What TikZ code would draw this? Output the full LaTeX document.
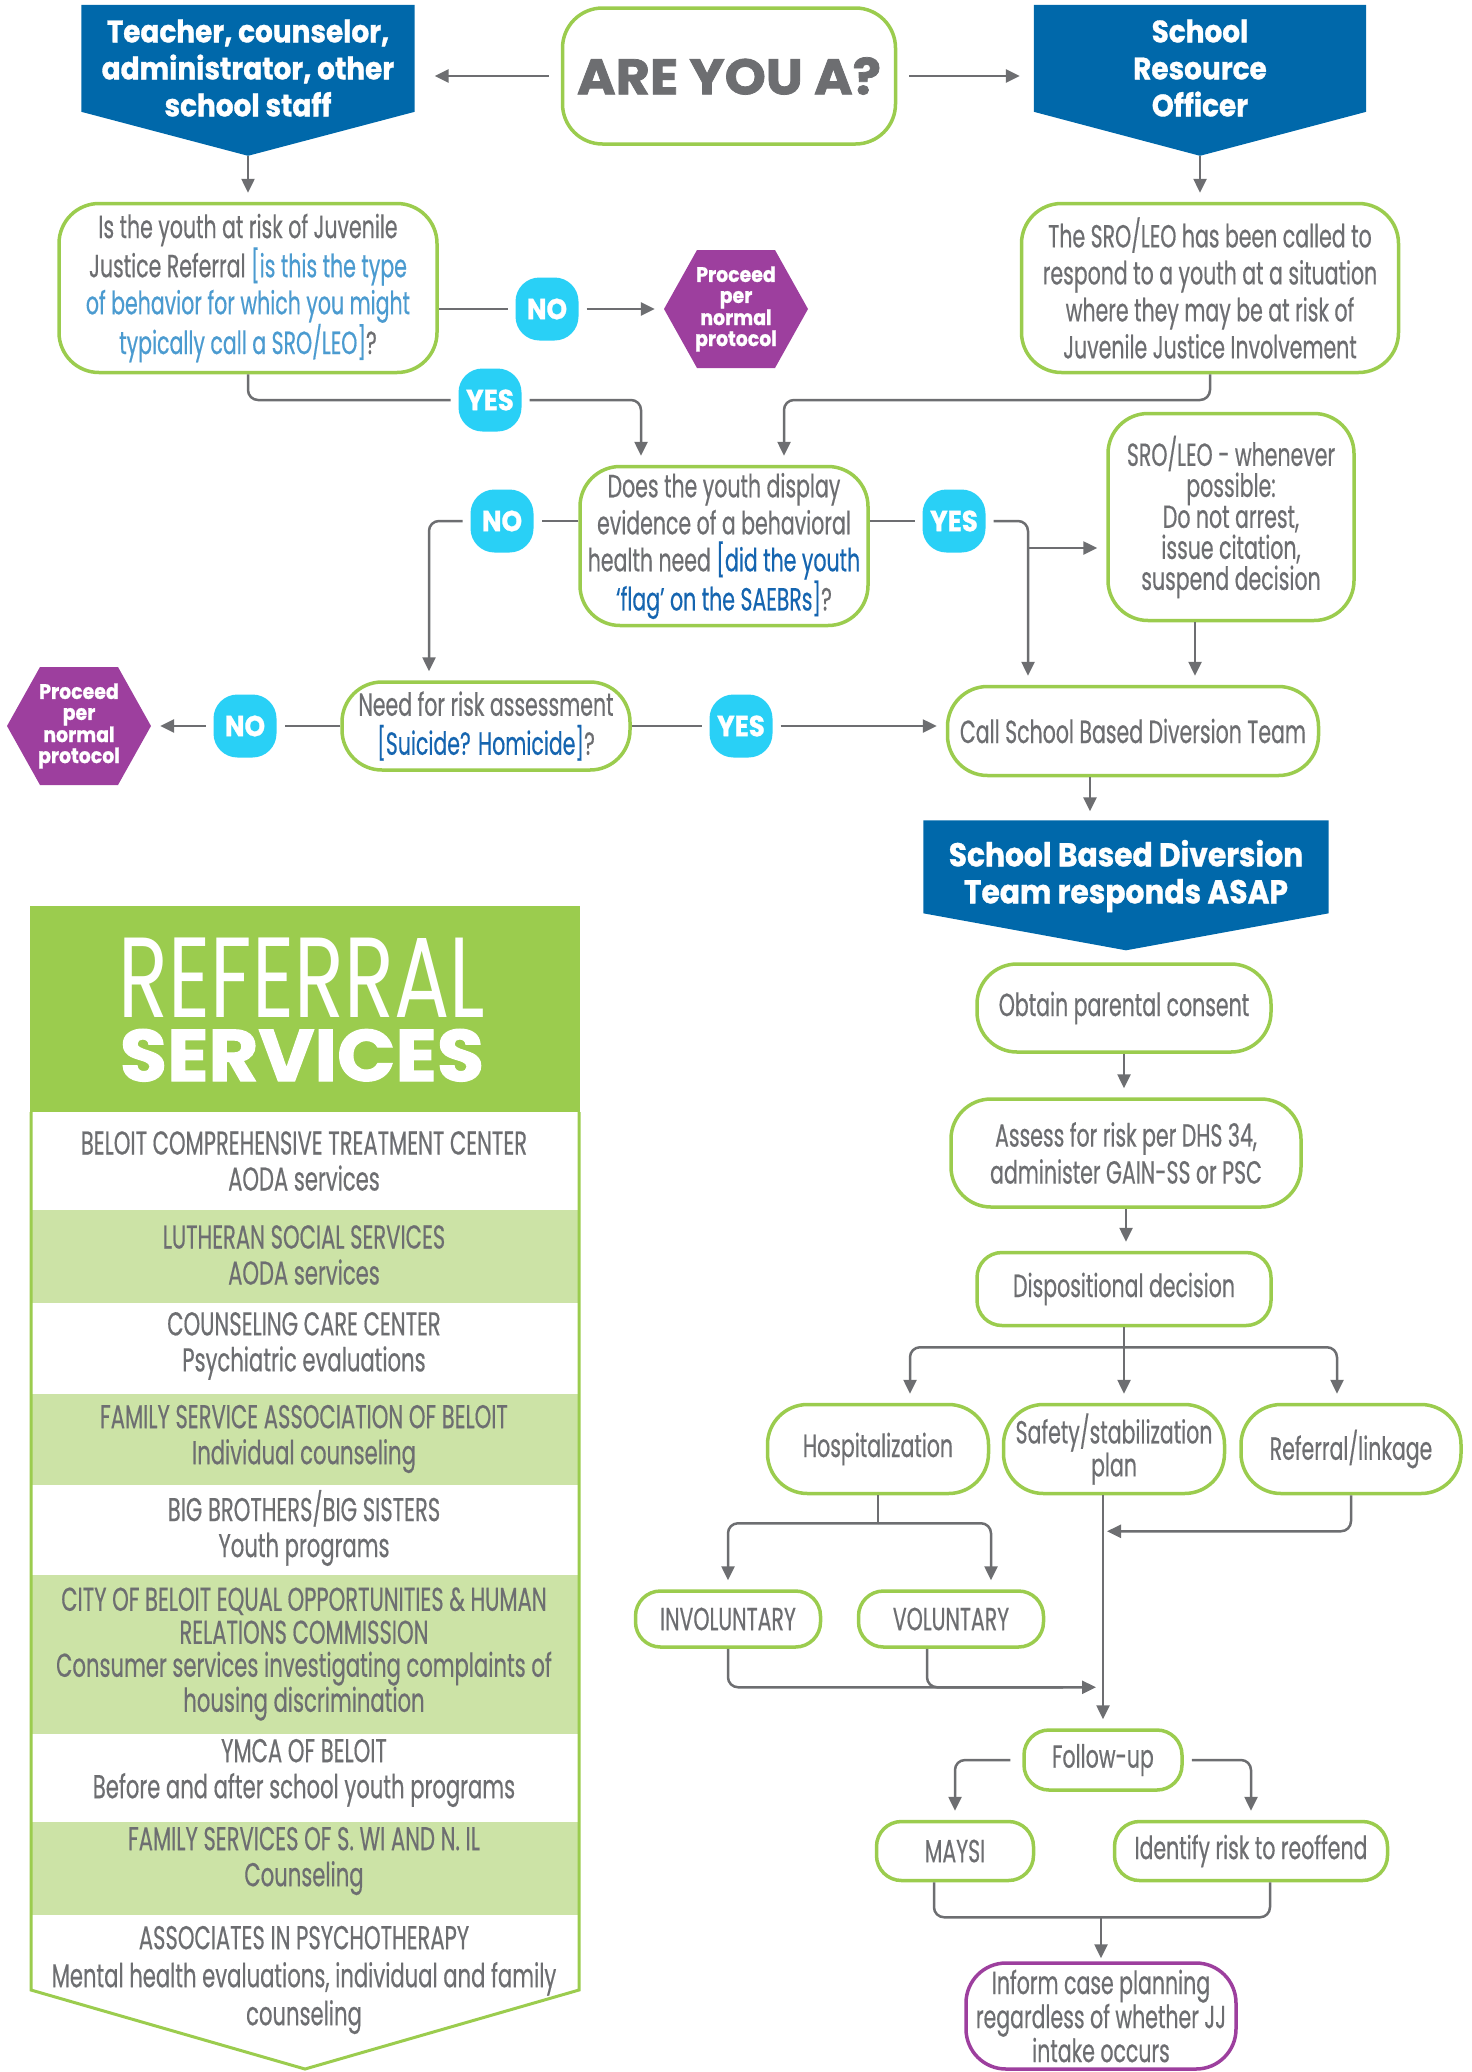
\documentclass[tikz,border=0pt]{standalone}
\usepackage{fontspec}
\usepackage{tikz}
\usetikzlibrary{arrows.meta,calc,backgrounds}
\newfontfamily\bodyfont[FakeStretch=0.64, FakeBold=0.4]{Poppins}
\newfontfamily\headfont[FakeStretch=0.9, FakeBold=1]{Poppins}
\newfontfamily\bigfont[FakeStretch=1.05, FakeBold=1.5]{Poppins}
\newfontfamily\thinfont[FakeStretch=0.72]{Poppins}
\definecolor{jblue}{HTML}{0068AA}
\definecolor{jgreen}{HTML}{9BCC4E}
\definecolor{jstripe}{HTML}{CCE3A6}
\definecolor{jcyan}{HTML}{29D0F6}
\definecolor{jpurple}{HTML}{9D3F9E}
\definecolor{jgray}{HTML}{6D6E71}
\definecolor{qblue}{HTML}{4B9BD0}
\definecolor{dblue}{HTML}{1565B0}

\tikzset{
  qbox/.style={draw=jgreen, line width=3.5pt, fill=white, rounded corners=40pt, align=center,
    text=jgray, inner sep=0pt, font=\bodyfont\fontsize{32}{37}\selectfont},
  pill/.style={qbox, rounded corners=25pt},
  badge/.style={fill=jcyan, rounded corners=24pt, text=white, minimum width=63, minimum height=63,
    inner sep=0pt, outer sep=8pt, font=\headfont\bfseries\fontsize{29}{29}\selectfont},
  hexa/.style={minimum width=144, minimum height=118, inner sep=0pt, text=white, align=center,
    font=\headfont\bfseries\fontsize{21}{21}\selectfont,
    path picture={\fill[jpurple] (path picture bounding box.west)
      -- ([xshift=33pt]path picture bounding box.north west) -- ([xshift=-33pt]path picture bounding box.north east)
      -- (path picture bounding box.east)
      -- ([xshift=-33pt]path picture bounding box.south east) -- ([xshift=33pt]path picture bounding box.south west) -- cycle;}},
  bantext/.style={text=white, align=center, inner sep=0pt, font=\headfont\bfseries\fontsize{31}{37}\selectfont},
  svc/.style={text=jgray, align=center, inner sep=0pt, font=\bodyfont\fontsize{33}{36}\selectfont},
  line/.style={draw=jgray, line width=2.5pt, rounded corners=10pt},
  arr/.style={line, ->, >={Stealth[inset=0pt,length=14pt,width=13pt]}, shorten >=9pt}
}

\begin{document}
\begin{tikzpicture}[x=1pt,y=-1pt]
\useasboundingbox (0,0) rectangle (1472,2072);

% who is asking
\node[bantext, minimum width=333, minimum height=126] (staff) at (248,68) {Teacher, counselor,\\administrator, other\\school staff};
\node[bantext, minimum width=332, minimum height=126] (sro) at (1200,68) {School\\Resource\\Officer};
\node[qbox, minimum width=333, minimum height=136, font=\bigfont\bfseries\fontsize{50}{50}\selectfont] (areu) at (729,76) {ARE YOU A?};
\coordinate (tip1) at ($(staff.north)+(0,151)$);
\coordinate (tip2) at ($(sro.north)+(0,151)$);

% first questions
\node[qbox, minimum width=378, minimum height=169] (jjq) at (248,288) {Is the youth at risk of Juvenile\\Justice Referral {\color{qblue}[is this the type}\\{\color{qblue}of behavior for which you might}\\{\color{qblue}typically call a SRO/LEO]}?};
\node[qbox, minimum width=377, minimum height=169] (sroq) at (1210,288) {The SRO/LEO has been called to\\respond to a youth at a situation\\where they may be at risk of\\Juvenile Justice Involvement};
\node[badge] (no1) at (547,309) {NO};
\node[hexa] (hex1) at (736,309) {Proceed\\per\\normal\\protocol};
\node[badge] (yes1) at (490,400) {YES};

% behavioral health
\node[qbox, minimum width=288, minimum height=159] (bhq) at (724,546) {Does the youth display\\evidence of a behavioral\\health need {\color{dblue}[did the youth}\\{\color{dblue}‘flag’ on the SAEBRs]}?};
\node[badge] (no2) at (502,521) {NO};
\node[badge] (yes2) at (954,521) {YES};
\node[qbox, minimum width=246, minimum height=207, font=\bodyfont\fontsize{32}{31}\selectfont] (leo) at (1231,517) {SRO/LEO - whenever\\possible:\\Do not arrest,\\issue citation,\\suspend decision};

% risk assessment
\node[qbox, minimum width=288, minimum height=88, font=\bodyfont\fontsize{32}{39}\selectfont] (risk) at (486,726) {Need for risk assessment\\{\color{dblue}[Suicide? Homicide]}?};
\node[badge] (no3) at (245,726) {NO};
\node[hexa] (hex2) at (79,726) {Proceed\\per\\normal\\protocol};
\node[badge] (yes3) at (741,726) {YES};
\node[qbox, minimum width=371, minimum height=89] (call) at (1133,731) {Call School Based Diversion Team};

% diversion team
\node[bantext, minimum width=405, minimum height=111, font=\headfont\bfseries\fontsize{33}{37}\selectfont] (sbdt) at (1126,876) {School Based Diversion\\Team responds ASAP};
\node[qbox, minimum width=294, minimum height=88] (consent) at (1124,1008) {Obtain parental consent};
\node[qbox, minimum width=350, minimum height=108] (assess) at (1126,1153) {Assess for risk per DHS 34,\\administer GAIN-SS or PSC};
\node[pill, minimum width=294, minimum height=73] (disp) at (1124,1289) {Dispositional decision};
\node[qbox, minimum width=221, minimum height=89] (hosp) at (878,1449) {Hospitalization};
\node[qbox, minimum width=221, minimum height=89, font=\bodyfont\fontsize{32}{28}\selectfont] (safety) at (1114,1449) {Safety/stabilization\\plan};
\node[qbox, minimum width=220, minimum height=89] (linkage) at (1351,1449) {Referral/linkage};
\node[pill, minimum width=185, minimum height=56] (invol) at (728,1619) {INVOLUNTARY};
\node[pill, minimum width=185, minimum height=56] (vol) at (951,1619) {VOLUNTARY};
\node[pill, minimum width=158, minimum height=60] (follow) at (1103,1760) {Follow-up};
\node[pill, minimum width=157, minimum height=59] (maysi) at (955,1851) {MAYSI};
\node[pill, minimum width=273, minimum height=59] (reoffend) at (1251,1851) {Identify risk to reoffend};
\node[qbox, draw=jpurple, minimum width=270, minimum height=106, font=\bodyfont\fontsize{32}{31}\selectfont] (inform) at (1101,2016) {Inform case planning\\regardless of whether JJ\\intake occurs};

% banners
\begin{scope}[on background layer]
\fill[jblue] (staff.north west) -- (staff.north east) -- ($(staff.north east)+(0,107)$) -- (tip1) -- ($(staff.north west)+(0,107)$) -- cycle;
\fill[jblue] (sro.north west) -- (sro.north east) -- ($(sro.north east)+(0,107)$) -- (tip2) -- ($(sro.north west)+(0,107)$) -- cycle;
\fill[jblue] (sbdt.north west) -- (sbdt.north east) -- ($(sbdt.north east)+(0,93)$) -- ($(sbdt.north)+(0,130)$) -- ($(sbdt.north west)+(0,93)$) -- cycle;
\end{scope}

% connectors, top half
\draw[arr, shorten <=12pt, shorten >=20pt] (areu.west) -- (areu.west -| staff.east);
\draw[arr, shorten <=12pt, shorten >=14pt] (areu.east) -- (areu.east -| sro.west);
\draw[arr] (tip1) -- (jjq.north);
\draw[arr] (tip2) -- (tip2 |- sroq.north);
\draw[line] (jjq.east |- no1) -- (no1.west);
\draw[arr] (no1.east) -- (hex1.west);
\coordinate (bhA) at ($(bhq.north)+(-83,0)$);
\coordinate (bhB) at ($(bhq.north)+(60,0)$);
\draw[line] (jjq.south) |- (yes1.west);
\draw[arr] (yes1.east) -| (bhA);
\draw[arr] (sroq.south) |- (bhB |- yes1) -- (bhB);
\draw[line] (bhq.west |- no2) -- (no2.east);
\coordinate (riskA) at ($(risk.north)+(-57,0)$);
\draw[arr] (no2.west) -| (riskA);
\draw[line] (bhq.east |- yes2) -- (yes2.west);
\coordinate (callA) at ($(call.north)+(-105,0)$);
\coordinate (callB) at ($(call.north)+(62,0)$);
\draw[arr] (yes2.east) -| (callA);
\coordinate (fork) at ($(callA |- leo.west)+(0,31)$);
\draw[arr] (fork) -- (fork -| leo.west);
\draw[arr] (callB |- leo.south) -- (callB);
\draw[line] (risk.west) -- (no3.east);
\draw[arr] (no3.west) -- (hex2.east);
\draw[line] (risk.east) -- (yes3.west);
\draw[arr] (yes3.east) -- (yes3 -| call.west);

% connectors, diversion team
\coordinate (sbA) at ($(sbdt.north)+(-36,0)$);
\draw[arr] (sbA |- call.south) -- (sbA);
\draw[arr] (consent.south) -- (consent.south |- assess.north);
\draw[arr] (assess.south) -- (assess.south |- disp.north);
\coordinate (brA) at ($(disp.south)+(0,20)$);
\coordinate (hospA) at ($(hosp.north)+(32,0)$);
\coordinate (linkA) at ($(linkage.north)+(-14,0)$);
\draw[arr] (brA) -| (hospA);
\draw[arr] (brA) -| (linkA);
\draw[arr] (disp.south) -- (disp.south |- safety.north);
\coordinate (brB) at ($(hosp.south)+(0,28)$);
\coordinate (volA) at ($(vol.north)+(40,0)$);
\draw[line] (hosp.south) -- (brB);
\draw[arr] (brB) -| (invol.north);
\draw[arr] (brB) -| (volA);
\coordinate (mgA) at ($(follow.north)+(0,-41)$);
\coordinate (mgB) at ($(follow.north)+(0,-197)$);
\draw[arr, shorten >=7pt] (invol.south) |- (mgA);
\draw[line] ($(vol.south)+(-24,0)$) |- ($(mgA)+(-40,0)$);
\draw[arr] (follow.north |- safety.south) -- (follow.north);
\draw[arr, shorten >=4pt] (linkage.south) |- (mgB);
\draw[arr, shorten <=12pt] (follow.west) -| (maysi.north);
\draw[arr, shorten <=8pt] (follow.east) -| (reoffend.north);
\coordinate (mgC) at ($(inform.north)+(0,-44)$);
\draw[line] ($(maysi.south)+(-21,0)$) |- (mgC) -| ($(reoffend.south)+(19,0)$);
\draw[arr, shorten >=3pt] (mgC) -- (inform.north);

% referral services
\fill[jgreen] (30,906) rectangle (580,1112);
\foreach \ya/\yb in {1210/1303,1394/1485,1575/1734,1822/1915}
  \fill[jstripe] (31,\ya) rectangle (579,\yb);
\draw[jgreen, line width=3pt] (31,1112) -- (31,1990) -- (305,2069) -- (579,1990) -- (579,1112);
\node[text=white, inner sep=0pt, text height=81pt, text depth=0pt, font=\thinfont\fontsize{114}{114}\selectfont] (reftop) at (302,977) {REFERRAL};
\node[text=white, inner sep=0pt, text height=50pt, text depth=0pt, font=\bigfont\bfseries\fontsize{73}{73}\selectfont] (refbot) at (302,1056) {SERVICES};
\node[svc] (svc1) at (304,1161) {BELOIT COMPREHENSIVE TREATMENT CENTER\\AODA services};
\node[svc] (svc2) at (304,1255) {LUTHERAN SOCIAL SERVICES\\AODA services};
\node[svc] (svc3) at (304,1346) {COUNSELING CARE CENTER\\Psychiatric evaluations};
\node[svc] (svc4) at (304,1439) {FAMILY SERVICE ASSOCIATION OF BELOIT\\Individual counseling};
\node[svc] (svc5) at (304,1528) {BIG BROTHERS/BIG SISTERS\\Youth programs};
\node[svc, font=\bodyfont\fontsize{33}{33}\selectfont] (svc6) at (304,1654) {CITY OF BELOIT EQUAL OPPORTUNITIES \& HUMAN\\RELATIONS COMMISSION\\Consumer services investigating complaints of\\housing discrimination};
\node[svc] (svc7) at (304,1773) {YMCA OF BELOIT\\Before and after school youth programs};
\node[svc] (svc8) at (304,1861) {FAMILY SERVICES OF S. WI AND N. IL\\Counseling};
\node[svc, font=\bodyfont\fontsize{33}{38}\selectfont] (svc9) at (304,1980) {ASSOCIATES IN PSYCHOTHERAPY\\Mental health evaluations, individual and family\\counseling};
\end{tikzpicture}
\end{document}
